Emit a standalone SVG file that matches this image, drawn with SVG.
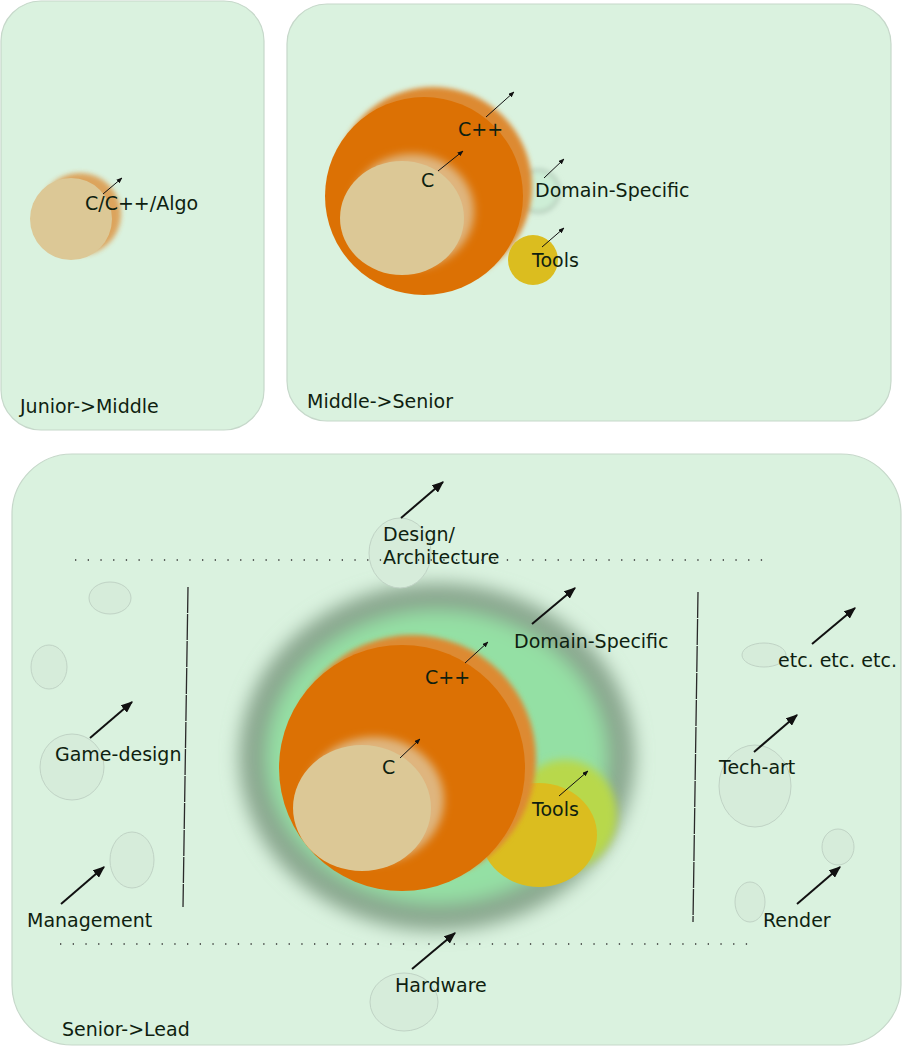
<svg xmlns="http://www.w3.org/2000/svg" width="902" height="1046" viewBox="0 0 902 1046">
<style>
.panel{fill:#daf2df;stroke:#c6d8ca;stroke-width:1.2}
.t{font-family:"DejaVu Sans","Liberation Sans",sans-serif;font-size:19px;fill:#0f1f10}
.ghost{fill:#d6ecda;stroke:#c0d3c5;stroke-width:1}
.arr{stroke:#111;fill:none;marker-end:url(#ah)}
.thin{stroke-width:1}
.thick{stroke-width:2}
.vline{stroke:#2a2a2a;stroke-width:1.3;stroke-dasharray:26 1}
.dots{stroke:#333;stroke-width:1.3;stroke-dasharray:1.3 11.4}
.orange{fill:#dc7104}
.orangeHalo{fill:#dd8a33}
.beige{fill:#dcc896}
.beigeHalo{fill:#dfb57e}
.yellow{fill:#dbbd1f}
</style>
<defs>
<marker id="ah" viewBox="0 0 10 8" refX="9" refY="4" markerWidth="6" markerHeight="4.8" orient="auto" markerUnits="strokeWidth">
<path d="M0,0 L10,4 L0,8 Z" fill="#111"/>
</marker>
<filter id="b2" x="-30%" y="-30%" width="160%" height="160%"><feGaussianBlur stdDeviation="2.5"/></filter>
<filter id="b4" x="-30%" y="-30%" width="160%" height="160%"><feGaussianBlur stdDeviation="4"/></filter>
<filter id="b9" x="-30%" y="-30%" width="160%" height="160%"><feGaussianBlur stdDeviation="9"/></filter>
</defs>

<g id="panel-junior">
<rect class="panel" x="1" y="1" width="263" height="429" rx="40"/>
<text class="t" x="20" y="413">Junior-&gt;Middle</text>
</g>
<g id="panel-middle">
<rect class="panel" x="287" y="4" width="604" height="417" rx="40"/>
<text class="t" x="307" y="408">Middle-&gt;Senior</text>
</g>
<g id="panel-senior">
<rect class="panel" x="12" y="454" width="889" height="591" rx="60"/>
<text class="t" x="62" y="1036">Senior-&gt;Lead</text>
</g>

<g id="node-c-cpp-algo">
<circle class="orangeHalo" cx="80" cy="214" r="41" filter="url(#b2)" opacity="0.75"/>
<circle class="beige" cx="71" cy="219" r="41"/>
<text class="t" x="85" y="210">C/C++/Algo</text>
</g>

<g id="node-mid-domain">
<circle cx="538" cy="191" r="21" fill="#cdeed6" stroke="#b3c9b8" stroke-width="3" filter="url(#b2)"/>
<text class="t" x="535" y="197">Domain-Specific</text>
</g>
<g id="node-mid-cpp">
<circle class="orangeHalo" cx="433" cy="186" r="99" filter="url(#b2)"/>
<circle class="orange" cx="424" cy="196" r="99"/>
<text class="t" x="458" y="136">C++</text>
</g>
<g id="node-mid-c">
<ellipse class="beigeHalo" cx="412" cy="211" rx="62" ry="57" filter="url(#b4)"/>
<ellipse class="beige" cx="402" cy="218" rx="62" ry="57"/>
<text class="t" x="421" y="187">C</text>
</g>
<g id="node-mid-tools">
<circle class="yellow" cx="533" cy="260" r="25"/>
<text class="t" x="532" y="267">Tools</text>
</g>

<g id="node-domain">
<ellipse cx="437" cy="757" rx="184" ry="160" fill="#94e0a4" stroke="#8aa78f" stroke-width="28" filter="url(#b9)"/>
<text class="t" x="514" y="648">Domain-Specific</text>
</g>
<g id="node-tools">
<ellipse cx="565" cy="815" rx="52" ry="55" fill="#b8d84c" filter="url(#b4)"/>
<ellipse class="yellow" cx="539" cy="835" rx="58" ry="52"/>
<text class="t" x="532" y="816">Tools</text>
</g>
<g id="node-cpp">
<circle class="orangeHalo" cx="412" cy="759" r="124" filter="url(#b2)"/>
<circle class="orange" cx="402" cy="768" r="123"/>
<text class="t" x="425" y="684">C++</text>
</g>
<g id="node-c">
<ellipse class="beigeHalo" cx="374" cy="800" rx="70" ry="63" filter="url(#b4)"/>
<ellipse class="beige" cx="362" cy="808" rx="69" ry="63"/>
<text class="t" x="382" y="774">C</text>
</g>

<g id="node-design">
<ellipse class="ghost" cx="400" cy="553" rx="31" ry="35"/>
<text class="t" x="383" y="541">Design/</text>
<text class="t" x="383" y="564">Architecture</text>
</g>
<g id="node-hardware">
<ellipse class="ghost" cx="404" cy="1002" rx="34" ry="29"/>
<text class="t" x="395" y="992">Hardware</text>
</g>
<g id="node-left-a"><ellipse class="ghost" cx="110" cy="598" rx="21" ry="16"/></g>
<g id="node-left-b"><ellipse class="ghost" cx="49" cy="667" rx="18" ry="22"/></g>
<g id="node-game-design">
<ellipse class="ghost" cx="72" cy="767" rx="32" ry="33"/>
<text class="t" x="55" y="761">Game-design</text>
</g>
<g id="node-management">
<ellipse class="ghost" cx="132" cy="860" rx="22" ry="28"/>
<text class="t" x="27" y="927">Management</text>
</g>
<g id="node-etc">
<ellipse class="ghost" cx="764" cy="655" rx="22" ry="12"/>
<text class="t" x="778" y="667">etc. etc. etc.</text>
</g>
<g id="node-tech-art">
<ellipse class="ghost" cx="755" cy="786" rx="36" ry="41"/>
<text class="t" x="719" y="774">Tech-art</text>
</g>
<g id="node-render">
<ellipse class="ghost" cx="838" cy="847" rx="16" ry="18"/>
<ellipse class="ghost" cx="750" cy="902" rx="15" ry="20"/>
<text class="t" x="763" y="927">Render</text>
</g>

<g id="separators">
<line class="vline" x1="188" y1="587" x2="183" y2="907"/>
<line class="vline" x1="698" y1="592" x2="693" y2="922"/>
<line class="dots" x1="75" y1="560" x2="768" y2="560"/>
<line class="dots" x1="60" y1="944" x2="753" y2="944"/>
</g>

<g id="connectors">
<line class="arr thin" x1="103" y1="194" x2="122" y2="178"/>
<line class="arr thin" x1="486" y1="117" x2="514" y2="92"/>
<line class="arr thin" x1="438" y1="171" x2="463" y2="151"/>
<line class="arr thin" x1="544" y1="178" x2="564" y2="159"/>
<line class="arr thin" x1="542" y1="247" x2="564" y2="228"/>
<line class="arr thin" x1="465" y1="663" x2="488" y2="642"/>
<line class="arr thin" x1="400" y1="758" x2="420" y2="739"/>
<line class="arr thin" x1="559" y1="796" x2="588" y2="771"/>
<line class="arr thick" x1="532" y1="624" x2="575" y2="588"/>
<line class="arr thick" x1="401" y1="518" x2="443" y2="482"/>
<line class="arr thick" x1="412" y1="969" x2="455" y2="933"/>
<line class="arr thick" x1="90" y1="738" x2="132" y2="702"/>
<line class="arr thick" x1="61" y1="904" x2="104" y2="867"/>
<line class="arr thick" x1="812" y1="644" x2="855" y2="608"/>
<line class="arr thick" x1="754" y1="752" x2="797" y2="715"/>
<line class="arr thick" x1="797" y1="904" x2="840" y2="867"/>
</g>
</svg>
